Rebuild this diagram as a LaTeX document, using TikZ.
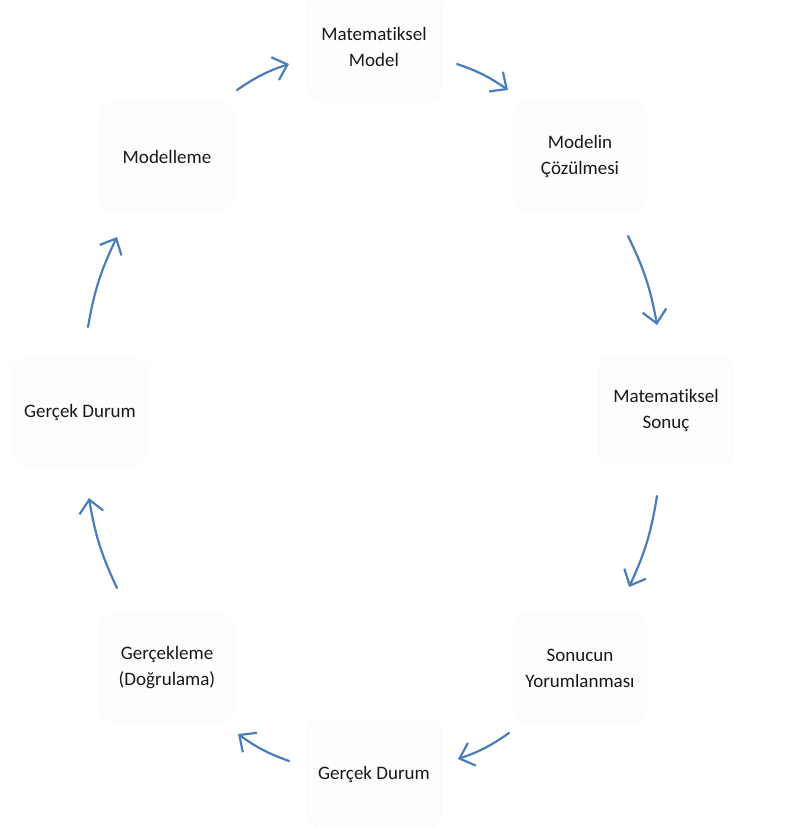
\documentclass[tikz,border=0pt]{standalone}
\usepackage{fontspec}
\setmainfont{Carlito}[Ligatures=NoCommon]
\usetikzlibrary{arrows.meta}
\definecolor{arrowblue}{RGB}{74,126,187}
\definecolor{boxfill}{RGB}{253,253,253}
\definecolor{boxline}{RGB}{249,249,249}
\definecolor{txt}{RGB}{25,25,25}
\begin{document}
\begin{tikzpicture}[x=1pt,y=1pt,
  stagebox/.style={rectangle, rounded corners=14pt, fill=boxfill, draw=boxline, line width=0.6pt,
    minimum width=134pt, minimum height=108pt, align=center, text=txt,
    font=\fontsize{19}{26}\selectfont, inner sep=0pt},
  cyclearrow/.style={draw=arrowblue, line width=2.2pt, line cap=round,
    -{Straight Barb[length=13pt,width=24pt,line width=2.2pt]}, bend left=8}]
\useasboundingbox (0,0) rectangle (799,-827);
\fill[white] (0,0) rectangle (799,-827);

\node[stagebox] (mm) at (374,-47) {Matematiksel\\Model};
\node[stagebox] (mc) at (580,-156) {Modelin\\Çözülmesi};
\node[stagebox] (ms) at (666,-410) {Matematiksel\\Sonuç};
\node[stagebox] (sy) at (580,-668) {Sonucun\\Yorumlanması};
\node[stagebox] (gdb) at (374,-774) {Gerçek Durum};
\node[stagebox] (gv) at (167,-668) {Gerçekleme\\(Doğrulama)};
\node[stagebox] (gdl) at (80,-412) {Gerçek Durum};
\node[stagebox] (ml) at (167,-157) {Modelleme};

\coordinate (a1s) at (237,-90);  \coordinate (a1e) at (289,-64);
\coordinate (a2s) at (457,-64);  \coordinate (a2e) at (508,-90);
\coordinate (a3s) at (628,-236); \coordinate (a3e) at (657,-325);
\coordinate (a4s) at (657,-496); \coordinate (a4e) at (629,-587);
\coordinate (a5s) at (509,-733); \coordinate (a5e) at (458,-759);
\coordinate (a6s) at (289,-761); \coordinate (a6e) at (238,-734);
\coordinate (a7s) at (117,-588); \coordinate (a7e) at (89,-498);
\coordinate (a8s) at (88,-327);  \coordinate (a8e) at (117,-237);

\draw[cyclearrow] (a1s) to (a1e);
\draw[cyclearrow] (a2s) to (a2e);
\draw[cyclearrow] (a3s) to (a3e);
\draw[cyclearrow] (a4s) to (a4e);
\draw[cyclearrow] (a5s) to (a5e);
\draw[cyclearrow] (a6s) to (a6e);
\draw[cyclearrow] (a7s) to (a7e);
\draw[cyclearrow] (a8s) to (a8e);
\end{tikzpicture}
\end{document}
